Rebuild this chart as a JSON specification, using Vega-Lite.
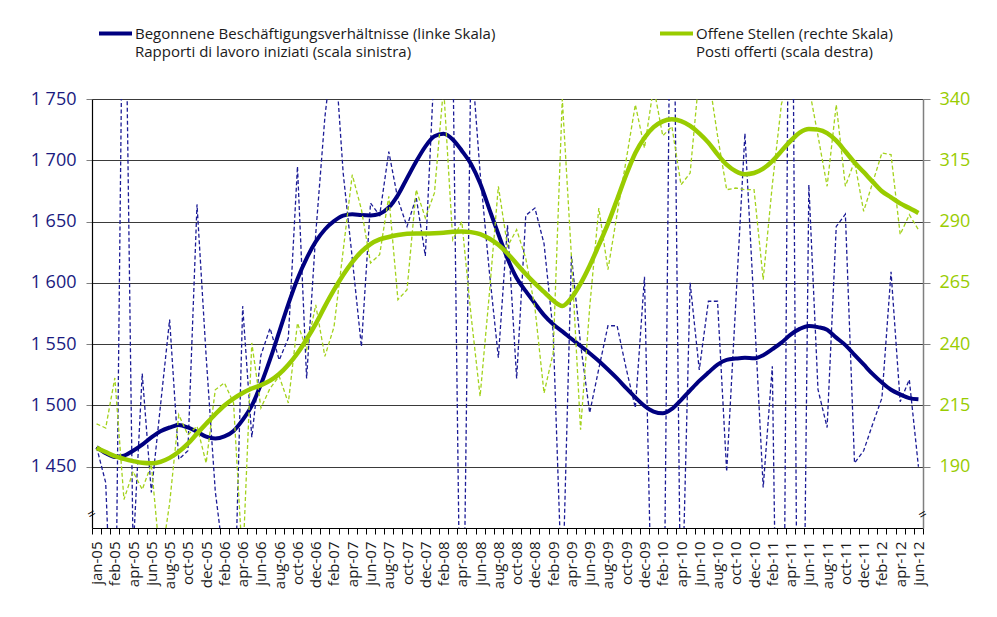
{
  "$schema": "https://vega.github.io/schema/vega-lite/v6.json",
  "width": 831,
  "height": 429,
  "autosize": {"type": "none"},
  "padding": {"left": 92, "top": 99, "right": 74, "bottom": 89},
  "background": "white",
  "config": {
    "view": {"stroke": null},
    "font": "Open Sans",
    "axis": {"labelFont": "Open Sans", "titleFont": "Open Sans"},
    "legend": {"labelFont": "Open Sans"},
    "style": {"guide-label": {"lineHeight": 18}}
  },
  "data": {"name": "series"},
  "datasets": {
    "series": [
      {"t":0,"s":"B","trend":1466,"raw":1466},{"t":1,"s":"B","trend":1461,"raw":1437},{"t":2,"s":"B","trend":1458,"raw":1250},{"t":3,"s":"B","trend":1459,"raw":1950},{"t":4,"s":"B","trend":1463,"raw":1380},{"t":5,"s":"B","trend":1468,"raw":1526},{"t":6,"s":"B","trend":1474,"raw":1429},{"t":7,"s":"B","trend":1479,"raw":1500},{"t":8,"s":"B","trend":1482,"raw":1570},{"t":9,"s":"B","trend":1484,"raw":1456},
      {"t":10,"s":"B","trend":1482,"raw":1463},{"t":11,"s":"B","trend":1478.5,"raw":1664},{"t":12,"s":"B","trend":1474.5,"raw":1540},{"t":13,"s":"B","trend":1473,"raw":1430},{"t":14,"s":"B","trend":1474.7,"raw":1370},{"t":15,"s":"B","trend":1479.2,"raw":1300},{"t":16,"s":"B","trend":1488.2,"raw":1581},{"t":17,"s":"B","trend":1499.8,"raw":1474},{"t":18,"s":"B","trend":1517.2,"raw":1541},{"t":19,"s":"B","trend":1537.6,"raw":1563},
      {"t":20,"s":"B","trend":1560,"raw":1537},{"t":21,"s":"B","trend":1582.7,"raw":1555},{"t":22,"s":"B","trend":1603.2,"raw":1695},{"t":23,"s":"B","trend":1620,"raw":1522},{"t":24,"s":"B","trend":1633.6,"raw":1640},{"t":25,"s":"B","trend":1643.5,"raw":1735},{"t":26,"s":"B","trend":1650.3,"raw":1800},{"t":27,"s":"B","trend":1654.8,"raw":1690},{"t":28,"s":"B","trend":1656,"raw":1620},{"t":29,"s":"B","trend":1655.3,"raw":1548},
      {"t":30,"s":"B","trend":1655,"raw":1665},{"t":31,"s":"B","trend":1656.3,"raw":1655},{"t":32,"s":"B","trend":1661.5,"raw":1707},{"t":33,"s":"B","trend":1671.6,"raw":1668},{"t":34,"s":"B","trend":1685.4,"raw":1646},{"t":35,"s":"B","trend":1699,"raw":1670},{"t":36,"s":"B","trend":1711.2,"raw":1622},{"t":37,"s":"B","trend":1719.6,"raw":1780},{"t":38,"s":"B","trend":1721.6,"raw":1850},{"t":39,"s":"B","trend":1717,"raw":1800},
      {"t":40,"s":"B","trend":1707.8,"raw":1200},{"t":41,"s":"B","trend":1697,"raw":1790},{"t":42,"s":"B","trend":1681.2,"raw":1690},{"t":43,"s":"B","trend":1660.4,"raw":1610},{"t":44,"s":"B","trend":1639.7,"raw":1539},{"t":45,"s":"B","trend":1619.9,"raw":1647},{"t":46,"s":"B","trend":1604,"raw":1522},{"t":47,"s":"B","trend":1593.2,"raw":1655},{"t":48,"s":"B","trend":1583.3,"raw":1661},{"t":49,"s":"B","trend":1573.7,"raw":1632},
      {"t":50,"s":"B","trend":1566.2,"raw":1560},{"t":51,"s":"B","trend":1560.4,"raw":1340},{"t":52,"s":"B","trend":1554.4,"raw":1622},{"t":53,"s":"B","trend":1548.5,"raw":1550},{"t":54,"s":"B","trend":1542.6,"raw":1494},{"t":55,"s":"B","trend":1536.2,"raw":1530},{"t":56,"s":"B","trend":1529.3,"raw":1565},{"t":57,"s":"B","trend":1522,"raw":1565},{"t":58,"s":"B","trend":1514.1,"raw":1530},{"t":59,"s":"B","trend":1506.5,"raw":1498},
      {"t":60,"s":"B","trend":1499.6,"raw":1605},{"t":61,"s":"B","trend":1495,"raw":1250},{"t":62,"s":"B","trend":1493.6,"raw":1200},{"t":63,"s":"B","trend":1497.1,"raw":2000},{"t":64,"s":"B","trend":1504.4,"raw":1300},{"t":65,"s":"B","trend":1512.3,"raw":1600},{"t":66,"s":"B","trend":1520,"raw":1529},{"t":67,"s":"B","trend":1526.8,"raw":1585},{"t":68,"s":"B","trend":1533.3,"raw":1585},{"t":69,"s":"B","trend":1537.2,"raw":1446},
      {"t":70,"s":"B","trend":1538.2,"raw":1584},{"t":71,"s":"B","trend":1538.8,"raw":1722},{"t":72,"s":"B","trend":1538.4,"raw":1580},{"t":73,"s":"B","trend":1541,"raw":1433},{"t":74,"s":"B","trend":1545.9,"raw":1532},{"t":75,"s":"B","trend":1551.2,"raw":1000},{"t":76,"s":"B","trend":1557.8,"raw":2100},{"t":77,"s":"B","trend":1562.5,"raw":1000},{"t":78,"s":"B","trend":1564.9,"raw":1680},{"t":79,"s":"B","trend":1563.9,"raw":1513},
      {"t":80,"s":"B","trend":1561.8,"raw":1482},{"t":81,"s":"B","trend":1555.3,"raw":1646},{"t":82,"s":"B","trend":1549.2,"raw":1656},{"t":83,"s":"B","trend":1541.3,"raw":1453},{"t":84,"s":"B","trend":1533.4,"raw":1463},{"t":85,"s":"B","trend":1525.5,"raw":1485},{"t":86,"s":"B","trend":1518.7,"raw":1506},{"t":87,"s":"B","trend":1512.8,"raw":1609},{"t":88,"s":"B","trend":1509,"raw":1503},{"t":89,"s":"B","trend":1506,"raw":1521},
      {"t":90,"s":"B","trend":1505,"raw":1450},
      {"t":0,"s":"O","trend":197.7,"raw":207.5},{"t":1,"s":"O","trend":196,"raw":205.8},{"t":2,"s":"O","trend":194.3,"raw":226.2},{"t":3,"s":"O","trend":193.2,"raw":176.6},{"t":4,"s":"O","trend":192.3,"raw":188},{"t":5,"s":"O","trend":191.6,"raw":180.7},{"t":6,"s":"O","trend":191.4,"raw":190.9},{"t":7,"s":"O","trend":192,"raw":150},{"t":8,"s":"O","trend":193.6,"raw":175},{"t":9,"s":"O","trend":196.1,"raw":211.2},
      {"t":10,"s":"O","trend":199.4,"raw":203},{"t":11,"s":"O","trend":203.5,"raw":206.5},{"t":12,"s":"O","trend":207.5,"raw":191.5},{"t":13,"s":"O","trend":211.4,"raw":221.4},{"t":14,"s":"O","trend":215,"raw":224.2},{"t":15,"s":"O","trend":217.8,"raw":216},{"t":16,"s":"O","trend":220.1,"raw":150},{"t":17,"s":"O","trend":221.9,"raw":240.5},{"t":18,"s":"O","trend":223.3,"raw":214},{"t":19,"s":"O","trend":225.1,"raw":222},
      {"t":20,"s":"O","trend":227.8,"raw":226.9},{"t":21,"s":"O","trend":231.6,"raw":216},{"t":22,"s":"O","trend":236.3,"raw":248.6},{"t":23,"s":"O","trend":242,"raw":237.8},{"t":24,"s":"O","trend":248.3,"raw":256},{"t":25,"s":"O","trend":255.4,"raw":235},{"t":26,"s":"O","trend":262.1,"raw":247},{"t":27,"s":"O","trend":268.2,"raw":278},{"t":28,"s":"O","trend":273.5,"raw":309.1},{"t":29,"s":"O","trend":277.7,"raw":295},
      {"t":30,"s":"O","trend":280.8,"raw":273.1},{"t":31,"s":"O","trend":282.7,"raw":276.5},{"t":32,"s":"O","trend":283.7,"raw":300.3},{"t":33,"s":"O","trend":284.5,"raw":258.1},{"t":34,"s":"O","trend":285,"raw":262.2},{"t":35,"s":"O","trend":285.1,"raw":303},{"t":36,"s":"O","trend":285.1,"raw":291.5},{"t":37,"s":"O","trend":285.2,"raw":301.7},{"t":38,"s":"O","trend":285.4,"raw":345},{"t":39,"s":"O","trend":285.8,"raw":282.6},
      {"t":40,"s":"O","trend":286,"raw":290},{"t":41,"s":"O","trend":285.7,"raw":252},{"t":42,"s":"O","trend":284.9,"raw":218.7},{"t":43,"s":"O","trend":283.1,"raw":260},{"t":44,"s":"O","trend":280.5,"raw":304.4},{"t":45,"s":"O","trend":277,"raw":279.9},{"t":46,"s":"O","trend":272.8,"raw":286.7},{"t":47,"s":"O","trend":268.6,"raw":275},{"t":48,"s":"O","trend":264.8,"raw":255},{"t":49,"s":"O","trend":261.3,"raw":220},
      {"t":50,"s":"O","trend":257.8,"raw":236.4},{"t":51,"s":"O","trend":255.6,"raw":340},{"t":52,"s":"O","trend":258.9,"raw":275.8},{"t":53,"s":"O","trend":264.7,"raw":205.1},{"t":54,"s":"O","trend":272,"raw":255},{"t":55,"s":"O","trend":280.4,"raw":295.5},{"t":56,"s":"O","trend":289.1,"raw":270.4},{"t":57,"s":"O","trend":299,"raw":293},{"t":58,"s":"O","trend":309.1,"raw":315.2},{"t":59,"s":"O","trend":318,"raw":337.7},
      {"t":60,"s":"O","trend":324.2,"raw":320},{"t":61,"s":"O","trend":328.5,"raw":345},{"t":62,"s":"O","trend":330.9,"raw":325},{"t":63,"s":"O","trend":331.7,"raw":328.8},{"t":64,"s":"O","trend":331,"raw":305},{"t":65,"s":"O","trend":329,"raw":309.8},{"t":66,"s":"O","trend":326,"raw":350},{"t":67,"s":"O","trend":322.2,"raw":350},{"t":68,"s":"O","trend":317.4,"raw":325},{"t":69,"s":"O","trend":313.2,"raw":303},
      {"t":70,"s":"O","trend":310.5,"raw":303.7},{"t":71,"s":"O","trend":309.3,"raw":303},{"t":72,"s":"O","trend":309.8,"raw":303},{"t":73,"s":"O","trend":311.6,"raw":266.3},{"t":74,"s":"O","trend":314.7,"raw":305},{"t":75,"s":"O","trend":318.8,"raw":338},{"t":76,"s":"O","trend":322.9,"raw":350},{"t":77,"s":"O","trend":326.3,"raw":350},{"t":78,"s":"O","trend":327.8,"raw":345},{"t":79,"s":"O","trend":327.5,"raw":325},
      {"t":80,"s":"O","trend":326.1,"raw":304.4},{"t":81,"s":"O","trend":323,"raw":337.7},{"t":82,"s":"O","trend":318.6,"raw":304.4},{"t":83,"s":"O","trend":314.1,"raw":314.6},{"t":84,"s":"O","trend":310.2,"raw":294.2},{"t":85,"s":"O","trend":306.2,"raw":306},{"t":86,"s":"O","trend":302.4,"raw":318},{"t":87,"s":"O","trend":299.9,"raw":317.3},{"t":88,"s":"O","trend":297.4,"raw":284.7},{"t":89,"s":"O","trend":295.5,"raw":292.8},
      {"t":90,"s":"O","trend":293.5,"raw":286.7}
    ]
  },
  "encoding": {
    "x": {
      "field": "t",
      "type": "quantitative",
      "scale": {"domain": [-0.5, 90.5], "nice": false, "zero": false},
      "axis": {
        "title": null,
        "grid": false,
        "domainColor": "#000000",
        "domainWidth": 1.2,
        "tickColor": "#000000",
        "tickSize": 6,
        "tickOpacity": {"condition": {"test": "abs(datum.value - round(datum.value)) == 0.5", "value": 1}, "value": 0},
        "labelAngle": 270,
        "labelAlign": "right",
        "labelBaseline": "middle",
        "labelFontSize": 15,
        "labelColor": "#1a1a1a",
        "labelPadding": 7,
        "labelOverlap": false,
        "labelFlush": false,
        "labelBound": false,
        "values": [-0.5,0.5,1.5,2.5,3.5,4.5,5.5,6.5,7.5,8.5,9.5,10.5,11.5,12.5,13.5,14.5,15.5,16.5,17.5,18.5,19.5,20.5,21.5,22.5,23.5,24.5,25.5,26.5,27.5,28.5,29.5,30.5,31.5,32.5,33.5,34.5,35.5,36.5,37.5,38.5,39.5,40.5,41.5,42.5,43.5,44.5,45.5,46.5,47.5,48.5,49.5,50.5,51.5,52.5,53.5,54.5,55.5,56.5,57.5,58.5,59.5,60.5,61.5,62.5,63.5,64.5,65.5,66.5,67.5,68.5,69.5,70.5,71.5,72.5,73.5,74.5,75.5,76.5,77.5,78.5,79.5,80.5,81.5,82.5,83.5,84.5,85.5,86.5,87.5,88.5,89.5,90.5,
          0,2,4,6,8,10,12,14,16,18,20,22,24,26,28,30,32,34,36,38,40,42,44,46,48,50,52,54,56,58,60,62,64,66,68,70,72,74,76,78,80,82,84,86,88,90],
        "labelExpr": "abs(datum.value - round(datum.value)) == 0.5 ? '' : ['jan-05','feb-05','apr-05','jun-05','aug-05','oct-05','dec-05','feb-06','apr-06','jun-06','aug-06','oct-06','dec-06','feb-07','apr-07','jun-07','aug-07','oct-07','dec-07','feb-08','apr-08','jun-08','aug-08','oct-08','dec-08','feb-09','apr-09','jun-09','aug-09','oct-09','dec-09','feb-10','apr-10','jun-10','aug-10','oct-10','dec-10','feb-11','apr-11','jun-11','aug-11','oct-11','dec-11','feb-12','apr-12','jun-12'][round(datum.value / 2)]"
      }
    }
  },
  "layer": [
    {
      "transform": [{"filter": "datum.s == 'B'"}],
      "encoding": {
        "y": {
          "type": "quantitative",
          "scale": {"domain": [1400, 1750], "nice": false, "zero": false},
          "axis": {
            "title": null,
            "orient": "left",
            "values": [1450, 1500, 1550, 1600, 1650, 1700, 1750],
            "labelExpr": "replace(format(datum.value, ',d'), ',', ' ')",
            "labelFontSize": 18,
            "labelColor": "#1a1a80",
            "labelPadding": 10,
            "tickSize": 6,
            "tickColor": "#7f7f7f",
            "domainColor": "#000000",
            "domainWidth": 1.2,
            "grid": true,
            "gridColor": "#3a3a3a",
            "gridWidth": 1
          }
        }
      },
      "layer": [
        {
          "mark": {"type": "line", "clip": true, "strokeWidth": 1.3, "strokeDash": [4, 2.5], "color": "#1c1c96"},
          "encoding": {"y": {"field": "raw"}}
        },
        {
          "mark": {"type": "line", "strokeWidth": 4, "interpolate": "monotone"},
          "encoding": {
            "y": {"field": "trend"},
            "color": {
              "field": "s",
              "type": "nominal",
              "scale": {"domain": ["B"], "range": ["#000080"]},
              "legend": {
                "title": null,
                "orient": "none",
                "legendX": 5,
                "legendY": -84,
                "padding": 0,
                "symbolType": "stroke",
                "symbolStrokeWidth": 4,
                "symbolSize": 1089,
                "labelFontSize": 15,
                "labelColor": "#1a1a1a",
                "labelOffset": 1,
                "labelLimit": 800,
                "labelBaseline": "middle",
                "labelExpr": "['Begonnene Beschäftigungsverhältnisse (linke Skala)', 'Rapporti di lavoro iniziati (scala sinistra)']"
              }
            }
          }
        },
        {
          "data": {"values": [{"t": -0.5, "v": 1411}]},
          "mark": {"type": "text", "text": "=", "angle": -30, "fontSize": 14, "color": "#000000"},
          "encoding": {"y": {"field": "v"}}
        }
      ]
    },
    {
      "transform": [{"filter": "datum.s == 'O'"}],
      "encoding": {
        "y": {
          "type": "quantitative",
          "scale": {"domain": [165, 340], "nice": false, "zero": false},
          "axis": {
            "title": null,
            "orient": "right",
            "values": [190, 215, 240, 265, 290, 315, 340],
            "labelFontSize": 18,
            "labelColor": "#99cc00",
            "labelPadding": 9,
            "tickSize": 7,
            "tickColor": "#7f7f7f",
            "domainColor": "#7f7f7f",
            "domainWidth": 1.5,
            "grid": false
          }
        }
      },
      "layer": [
        {
          "mark": {"type": "line", "clip": true, "strokeWidth": 1.3, "strokeDash": [4, 2.5], "color": "#a3d21c"},
          "encoding": {"y": {"field": "raw"}}
        },
        {
          "mark": {"type": "line", "strokeWidth": 4.5, "interpolate": "monotone"},
          "encoding": {
            "y": {"field": "trend"},
            "color": {
              "field": "s",
              "type": "nominal",
              "scale": {"domain": ["O"], "range": ["#99cc00"]},
              "legend": {
                "title": null,
                "orient": "none",
                "legendX": 566,
                "legendY": -84,
                "padding": 0,
                "symbolType": "stroke",
                "symbolStrokeWidth": 4,
                "symbolSize": 1089,
                "labelFontSize": 15,
                "labelColor": "#1a1a1a",
                "labelOffset": 1,
                "labelLimit": 800,
                "labelBaseline": "middle",
                "labelExpr": "['Offene Stellen (rechte Skala)', 'Posti offerti (scala destra)']"
              }
            }
          }
        },
        {
          "data": {"values": [{"t": 90.5, "v": 170.3}]},
          "mark": {"type": "text", "text": "=", "angle": -30, "fontSize": 14, "color": "#000000"},
          "encoding": {"y": {"field": "v"}}
        }
      ]
    }
  ],
  "resolve": {"scale": {"y": "independent", "color": "independent"}}
}
